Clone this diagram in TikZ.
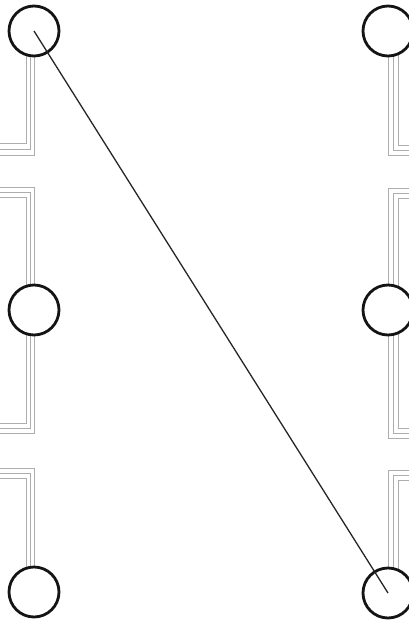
\documentclass[tikz,border=0pt]{standalone}
\begin{document}
\begin{tikzpicture}[x=1pt,y=-1pt,
  ring/.style={circle,draw=black!92,line width=2.8pt,fill=white,minimum size=50pt,inner sep=0pt},
  rail/.style={draw=black!32,line width=0.9pt},
  link/.style={draw=black!85,line width=1.3pt}]
\useasboundingbox (0,0) rectangle (409,621);
% gray rails (left column)
\draw[rail] (34,31) -- (34,155) -- (0,155);
\draw[rail] (30,31) -- (30,149) -- (0,149);
\draw[rail] (26,31) -- (26,143) -- (0,143);
\draw[rail] (0,187) -- (34,187) -- (34,433) -- (0,433);
\draw[rail] (0,192) -- (30,192) -- (30,428) -- (0,428);
\draw[rail] (0,197) -- (26,197) -- (26,423) -- (0,423);
\draw[rail] (0,468) -- (34,468) -- (34,592);
\draw[rail] (0,473) -- (30,473) -- (30,592);
\draw[rail] (0,478) -- (26,478) -- (26,592);
% gray rails (right column)
\draw[rail] (388,31) -- (388,155) -- (409,155);
\draw[rail] (393,31) -- (393,150) -- (409,150);
\draw[rail] (398,31) -- (398,145) -- (409,145);
\draw[rail] (409,188) -- (388,188) -- (388,438) -- (409,438);
\draw[rail] (409,193) -- (393,193) -- (393,433) -- (409,433);
\draw[rail] (409,198) -- (398,198) -- (398,428) -- (409,428);
\draw[rail] (409,470) -- (388,470) -- (388,592);
\draw[rail] (409,475) -- (393,475) -- (393,592);
\draw[rail] (409,480) -- (398,480) -- (398,592);
% circles
\node[ring] (tl) at (34,31) {};
\node[ring] (ml) at (34,310) {};
\node[ring] (bl) at (34,592) {};
\node[ring] (tr) at (388,31) {};
\node[ring] (mr) at (388,310) {};
\node[ring] (br) at (388,593) {};
% connector
\draw[link] (tl.center) -- (br.center);
\end{tikzpicture}
\end{document}
